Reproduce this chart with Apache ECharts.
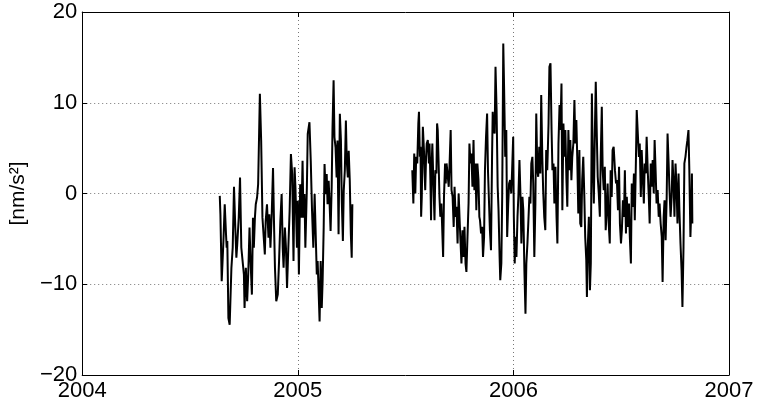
<!DOCTYPE html>
<html>
<head>
<meta charset="utf-8">
<script src="https://cdn.jsdelivr.net/npm/echarts@6/dist/echarts.min.js"></script>
<style>
html,body{margin:0;padding:0;background:#fff;}
#chart{width:757px;height:408px;}
</style>
</head>
<body>
<div id="chart"></div>
<script>
// Axis settings
var xTicks = [2004, 2005, 2006, 2007];
var yTicks = [-20, -10, 0, 10, 20];
var yLabel = '[nm/s\u00B2]';

// Segment 1 (2004.6 - 2005.25)
var seg1Years = [2004.638,2004.641,2004.647,2004.655,2004.661,2004.667,2004.670,2004.673,2004.678,2004.684,
2004.692,2004.698,2004.704,2004.710,2004.715,2004.719,2004.726,2004.732,2004.738,2004.744,
2004.750,2004.753,2004.759,2004.765,2004.770,2004.776,2004.782,2004.787,2004.792,2004.796,
2004.801,2004.805,2004.811,2004.816,2004.824,2004.830,2004.836,2004.842,2004.847,2004.851,
2004.857,2004.864,2004.868,2004.873,2004.879,2004.885,2004.890,2004.894,2004.900,2004.907,
2004.913,2004.919,2004.925,2004.930,2004.934,2004.940,2004.945,2004.950,2004.956,2004.962,
2004.968,2004.974,2004.980,2004.985,2004.989,2004.996,2005.000,2005.005,2005.011,2005.017,
2005.022,2005.026,2005.031,2005.035,2005.042,2005.046,2005.054,2005.060,2005.066,2005.072,
2005.078,2005.083,2005.088,2005.092,2005.097,2005.101,2005.106,2005.111,2005.115,2005.120,
2005.124,2005.129,2005.134,2005.138,2005.143,2005.147,2005.152,2005.157,2005.161,2005.166,
2005.170,2005.175,2005.180,2005.184,2005.189,2005.195,2005.200,2005.204,2005.209,2005.213,
2005.218,2005.223,2005.227,2005.232,2005.236,2005.241,2005.246,2005.250,2005.253];
var seg1Values = [-0.26,-2.29,-9.67,-5.24,-1.18,-4.50,-5.98,-5.24,-13.73,-14.46,
-8.19,-5.98,0.74,-3.76,-7.08,-5.61,-2.66,1.77,-5.98,-5.98,
-8.93,-12.62,-8.19,-11.88,-8.93,-3.76,-8.19,-11.14,-2.66,-5.98,
-2.66,-1.18,-0.44,1.03,11.0,5.83,-2.66,-4.87,-6.72,-3.03,
-1.18,-4.87,-2.29,-5.98,-2.29,2.80,-3.76,-8.19,-11.88,-11.14,
-7.45,-3.03,-0.07,-5.98,-8.19,-3.76,-5.98,-10.41,-5.98,-1.92,
4.35,2.14,-7.45,2.88,0.66,-5.98,-0.81,-8.93,1.03,-2.66,
3.62,-2.66,-0.07,-5.98,0.66,6.57,7.86,3.62,-1.92,-5.98,
-0.07,-4.50,-8.93,-7.45,-11.14,-14.10,-7.45,-12.62,-9.67,-3.76,
3.25,-0.07,2.14,-1.18,1.40,-0.81,-4.13,0.66,7.31,12.47,
6.20,5.09,1.77,5.83,-4.50,8.78,5.83,-0.81,-5.24,0.30,
2.51,8.04,3.62,1.77,4.72,1.40,-4.50,-7.08,-1.18];

// Segment 2 (2005.53 - 2006.83)
var seg2Years = [2005.531,2005.536,2005.540,2005.545,2005.549,2005.554,2005.559,2005.562,2005.566,2005.569,
2005.572,2005.575,2005.580,2005.585,2005.588,2005.591,2005.595,2005.598,2005.603,2005.608,
2005.611,2005.615,2005.618,2005.621,2005.624,2005.629,2005.634,2005.638,2005.643,2005.646,
2005.649,2005.654,2005.657,2005.661,2005.666,2005.670,2005.674,2005.678,2005.683,2005.686,
2005.690,2005.695,2005.700,2005.704,2005.709,2005.713,2005.718,2005.723,2005.727,2005.732,
2005.736,2005.741,2005.746,2005.750,2005.755,2005.759,2005.764,2005.769,2005.773,2005.778,
2005.782,2005.787,2005.792,2005.796,2005.801,2005.805,2005.810,2005.815,2005.819,2005.824,
2005.828,2005.833,2005.838,2005.842,
2005.845,2005.850,2005.855,2005.859,2005.864,2005.868,2005.873,2005.878,2005.882,2005.887,
2005.891,2005.896,2005.901,2005.904,2005.908,2005.913,2005.917,2005.922,2005.927,2005.931,
2005.936,2005.939,2005.944,2005.948,2005.953,2005.957,2005.962,2005.967,2005.971,2005.976,
2005.980,2005.985,2005.990,2005.994,2005.999,2006.002,2006.006,2006.010,2006.014,2006.019,
2006.023,2006.028,2006.033,2006.037,2006.042,2006.046,2006.051,2006.056,2006.060,2006.065,
2006.069,2006.074,2006.079,2006.083,2006.088,2006.092,2006.097,2006.102,2006.106,2006.111,
2006.115,2006.120,2006.125,2006.129,2006.134,2006.138,2006.143,2006.148,2006.152,2006.157,
2006.163,2006.167,2006.172,2006.177,2006.181,2006.186,2006.190,2006.195,2006.200,2006.204,
2006.209,2006.214,2006.218,2006.223,2006.227,2006.232,2006.237,2006.241,2006.246,2006.250,
2006.255,2006.260,2006.264,2006.269,2006.273,2006.278,2006.283,2006.287,2006.292,2006.296,
2006.301,2006.306,2006.310,2006.315,2006.319,2006.324,2006.329,2006.333,2006.338,2006.341,
2006.345,2006.350,2006.355,2006.359,2006.364,2006.368,2006.373,2006.378,2006.382,2006.387,
2006.391,2006.396,2006.401,2006.405,2006.410,2006.414,2006.419,2006.424,2006.428,2006.433,
2006.437,2006.442,2006.447,2006.451,2006.456,2006.460,2006.465,
2006.471,2006.476,2006.480,2006.485,2006.490,2006.494,2006.499,2006.503,2006.508,2006.513,
2006.517,2006.522,2006.526,2006.531,2006.536,2006.540,2006.545,2006.549,2006.554,2006.559,
2006.563,2006.568,2006.572,2006.577,2006.582,2006.586,2006.591,2006.595,2006.600,2006.605,
2006.609,2006.614,2006.618,2006.623,2006.628,2006.632,2006.637,2006.641,2006.646,2006.651,
2006.655,2006.660,2006.664,2006.669,2006.674,2006.678,2006.683,2006.688,2006.692,2006.697,
2006.701,2006.706,2006.711,2006.715,2006.720,2006.724,2006.729,2006.734,2006.738,2006.743,
2006.747,2006.752,2006.757,2006.761,2006.766,2006.770,2006.775,2006.780,2006.784,2006.789,
2006.793,2006.798,2006.803,2006.807,2006.812,2006.816,2006.821,2006.826,2006.828,2006.830];
var seg2Values = [2.57,-1.10,4.41,0,4.04,3.31,7.72,9.01,4.04,5.15,
-2.57,-0.37,7.35,4.78,2.21,0.37,4.04,5.51,5.88,3.31,
5.51,1.47,-2.94,3.31,5.51,1.10,-2.94,2.57,2.21,7.72,
6.99,2.57,-0.37,-2.57,-1.10,-4.04,-6.99,-0.37,3.31,1.10,
3.31,3.49,0.74,3.31,6.99,0.37,-0.37,-3.68,0.74,-2.57,
-1.47,-5.51,0,-2.57,-5.51,-7.72,-4.04,-6.99,-3.68,-7.72,
-8.64,-4.78,-1.10,5.51,3.31,4.41,0.74,5.88,0.37,3.31,
-1.84,3.31,1.47,-2.57,
-2.94,-4.41,-3.68,-6.99,-4.78,2.57,6.25,8.82,2.57,-1.10,
-4.04,-6.25,4.04,9.01,6.99,6.62,13.97,9.19,0.74,-1.84,
-6.99,-9.56,-7.72,-0.37,16.54,11.40,4.04,6.99,-4.78,-1.10,
1.10,1.47,0,2.57,6.25,-2.57,-7.72,-4.78,-6.99,-2.57,
-0.37,3.68,-0.37,-5.51,-0.37,-1.84,-8.46,-13.24,-7.72,-5.51,
-3.31,-0.37,-1.10,3.31,4.04,1.10,-6.99,-1.10,8.82,2.57,
1.84,5.15,2.21,10.85,4.04,0.37,-2.57,-4.04,4.78,2.57,
7.72,13.97,14.34,6.99,2.57,3.31,-1.10,2.94,-2.57,-5.51,
5.51,9.74,6.99,12.13,-1.84,7.72,4.04,6.99,1.47,-1.47,
6.99,2.57,5.88,1.47,4.04,5.51,10.29,5.51,8.09,4.04,
-2.21,4.78,-3.31,-3.68,1.47,4.04,-0.37,-4.78,-7.35,-11.40,
-5.88,-2.57,-10.66,-7.72,11.03,4.04,-1.10,6.99,12.32,6.25,
1.84,0,-2.57,4.04,9.56,2.57,0.37,2.94,-4.04,-1.84,
1.10,-3.31,-5.51,2.57,-0.37,4.78,5.15,
2.57,1.10,1.47,-1.84,2.94,-3.31,-5.51,-4.04,-0.74,-2.57,
2.57,-4.41,-0.37,-3.68,-1.10,-4.78,-7.72,1.10,-1.47,2.21,
-2.94,3.31,9.19,9.19,4.04,5.51,-0.37,4.78,1.84,-1.10,
3.31,2.21,6.25,2.57,-0.37,-3.31,3.31,0.74,3.68,0,
5.88,2.21,-1.10,0.37,-2.57,-1.10,-3.31,-4.78,-9.74,-2.57,
-0.74,-5.15,-0.37,6.62,3.31,0.37,-2.57,-0.37,3.68,1.10,
-2.57,3.31,0.37,-3.31,2.21,-1.84,-5.51,-8.46,-12.50,-5.88,
3.31,4.04,5.15,5.88,6.99,2.57,-4.78,-1.10,2.21,-3.31];

function zip(xs, ys) {
  var out = [];
  var n = Math.min(xs.length, ys.length);
  for (var i = 0; i < n; i++) out.push([xs[i], ys[i]]);
  return out;
}

var FONT = 'Liberation Sans, Arial, Helvetica, sans-serif';
var xMin = xTicks[0], xMax = xTicks[xTicks.length - 1];
var yMin = yTicks[0], yMax = yTicks[yTicks.length - 1];
var gridDash = { color: '#777', width: 1, type: [1, 3] };

function fmtX(v) { return String(Math.round(v)); }
function fmtY(v) { return v < 0 ? '\u2212' + Math.abs(v) : String(v); }

var chart = echarts.init(document.getElementById('chart'), null, { renderer: 'canvas' });
chart.setOption({
  animation: false,
  backgroundColor: '#fff',
  grid: { left: 77, right: 28, top: 12, bottom: 33, containLabel: false },
  xAxis: [{
    type: 'value', min: xMin, max: xMax, interval: 1, position: 'bottom',
    axisLine: { show: true, onZero: false, lineStyle: { color: '#000', width: 1 } },
    axisTick: { show: true, inside: true, length: 5, lineStyle: { color: '#000' } },
    axisLabel: { show: true, color: '#000', fontSize: 22, fontFamily: FONT, margin: 5, formatter: fmtX },
    splitLine: { show: true, lineStyle: gridDash }
  }, {
    type: 'value', min: xMin, max: xMax, interval: 1, position: 'top',
    axisLine: { show: true, onZero: false, lineStyle: { color: '#000', width: 1 } },
    axisTick: { show: true, inside: true, length: 5, lineStyle: { color: '#000' } },
    axisLabel: { show: false },
    splitLine: { show: false }
  }],
  yAxis: [{
    type: 'value', min: yMin, max: yMax, interval: 10, position: 'left',
    name: yLabel, nameLocation: 'middle', nameGap: 50, nameRotate: 90,
    nameTextStyle: { color: '#000', fontSize: 21, fontFamily: FONT },
    axisLine: { show: true, onZero: false, lineStyle: { color: '#000', width: 1 } },
    axisTick: { show: true, inside: true, length: 5, lineStyle: { color: '#000' } },
    axisLabel: { show: true, color: '#000', fontSize: 22, fontFamily: FONT, margin: 5, formatter: fmtY },
    splitLine: { show: true, lineStyle: gridDash }
  }, {
    type: 'value', min: yMin, max: yMax, interval: 10, position: 'right',
    axisLine: { show: true, onZero: false, lineStyle: { color: '#000', width: 1 } },
    axisTick: { show: true, inside: true, length: 5, lineStyle: { color: '#000' } },
    axisLabel: { show: false },
    splitLine: { show: false }
  }],
  series: [{
    type: 'line', xAxisIndex: 0, yAxisIndex: 0,
    data: zip(seg1Years, seg1Values),
    showSymbol: false, symbol: 'none',
    lineStyle: { color: '#000', width: 2 }, itemStyle: { color: '#000' }
  }, {
    type: 'line', xAxisIndex: 0, yAxisIndex: 0,
    data: zip(seg2Years, seg2Values),
    showSymbol: false, symbol: 'none',
    lineStyle: { color: '#000', width: 2 }, itemStyle: { color: '#000' }
  }]
});
</script>
</body>
</html>
